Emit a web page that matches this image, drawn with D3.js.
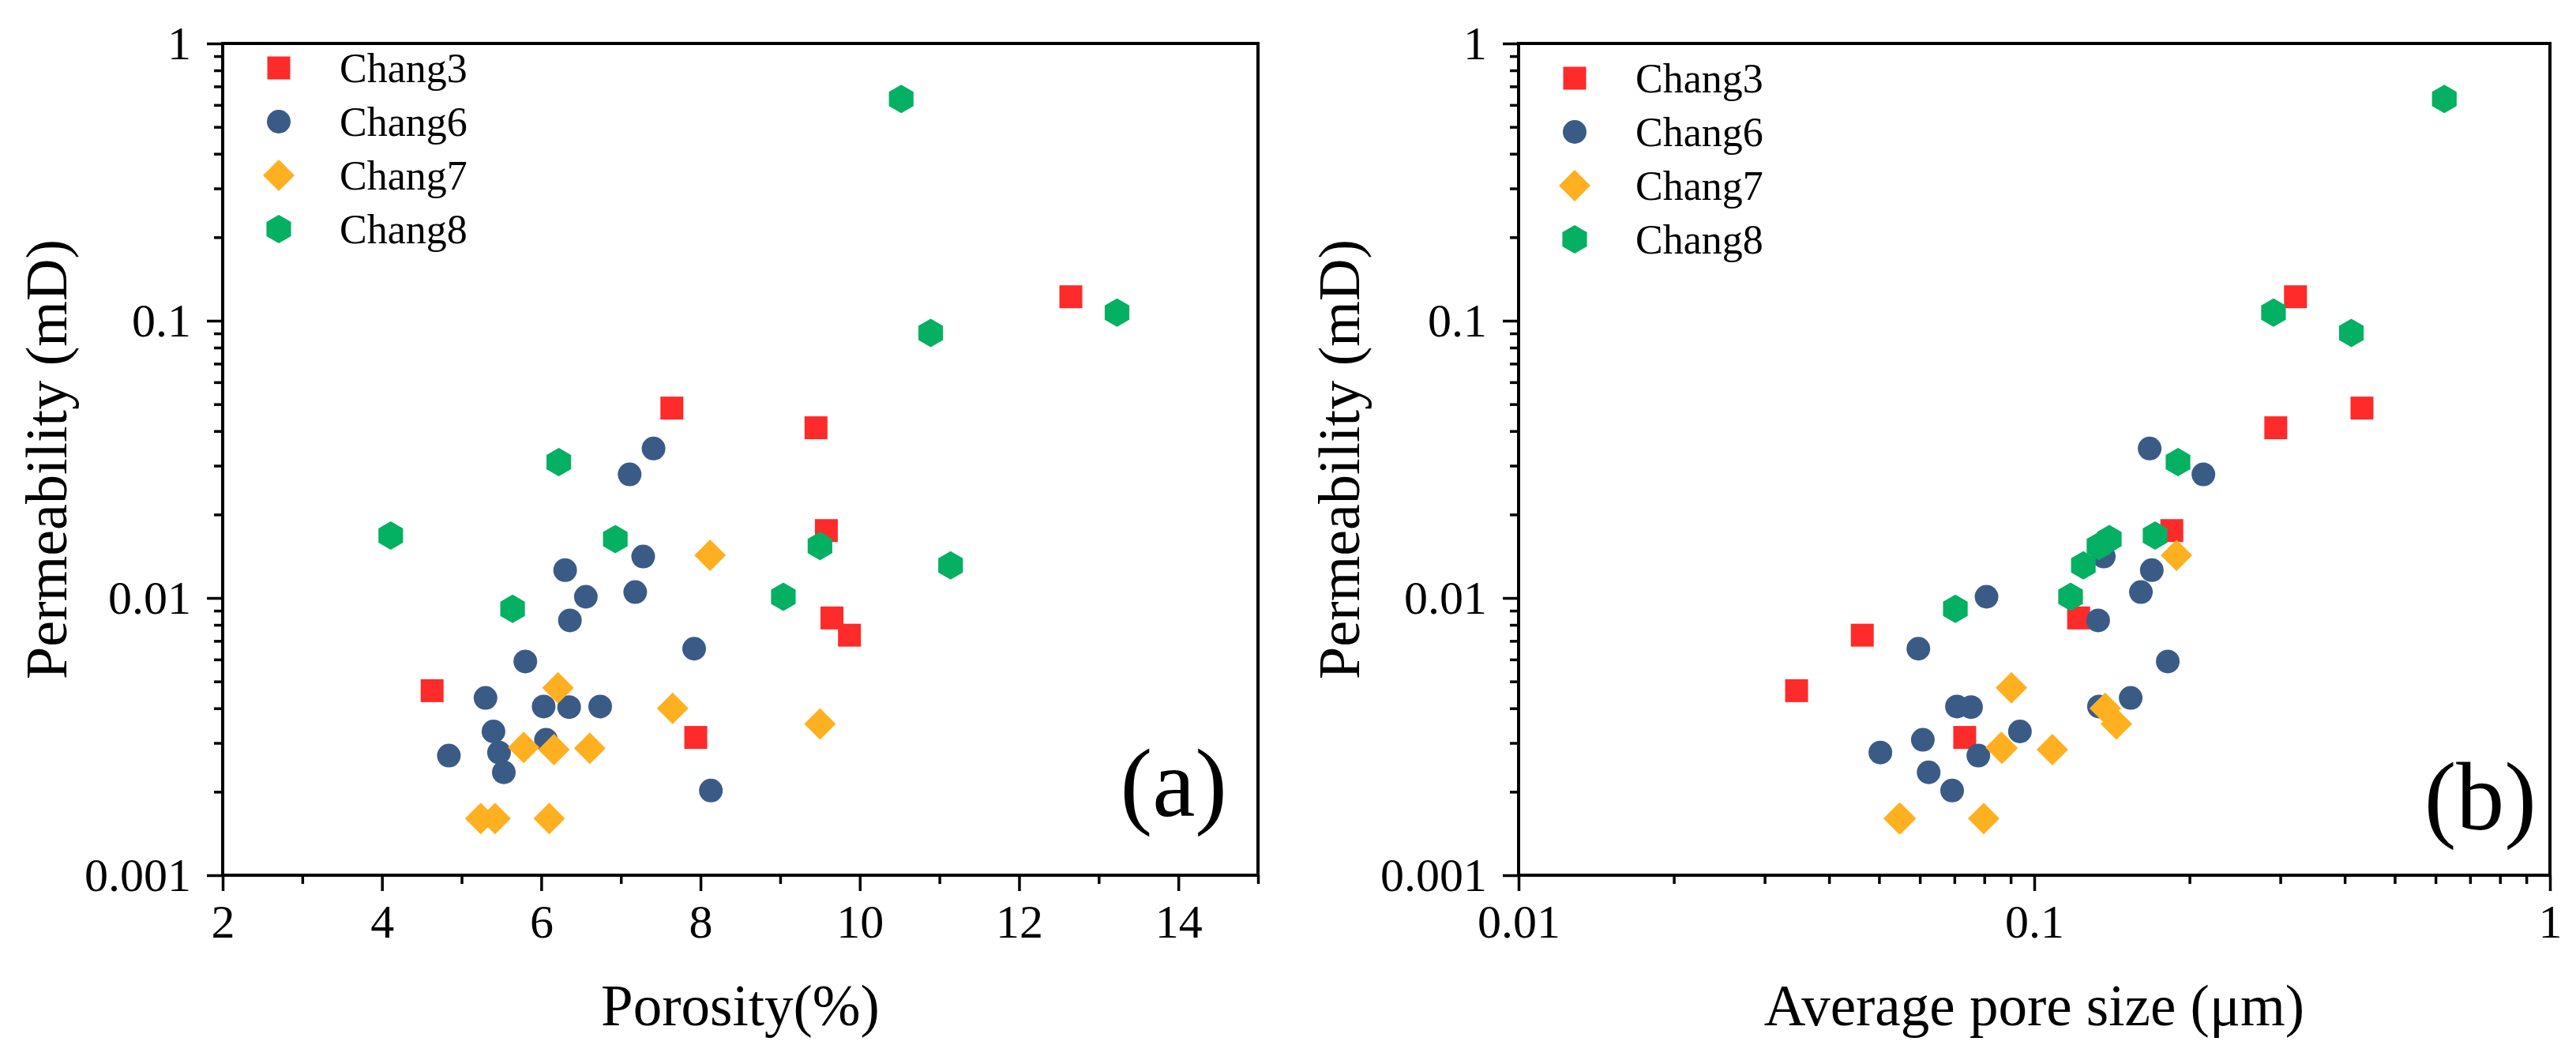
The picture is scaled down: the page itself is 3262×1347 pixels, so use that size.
<!DOCTYPE html>
<html>
<head>
<meta charset="utf-8">
<script src="https://cdn.jsdelivr.net/npm/d3@7"></script>
<style>
body { margin: 0; background: #fff; }
</style>
</head>
<body>
<script>
// Paramètres de la visualisation
const width = 3262;
const height = 1347;
const police = "'Liberation Serif', 'Times New Roman', serif";
const top0 = 55, bottom0 = 1108;

// Séries
const seriesNames = ['Chang3', 'Chang6', 'Chang7', 'Chang8'];
const seriesColors = ['#ff2a2a', '#3b5b87', '#ffb020', '#04b062'];
const seriesShapes = ['square', 'circle', 'diamond', 'hexagon'];

// Données : porosité (%), taille moyenne des pores (µm), perméabilité (mD)
const chang3Porosity = [4.63, 7.64, 9.45, 9.58, 9.65, 9.87, 7.94, 12.65];
const chang3PoreSize = [0.0346, 0.432, 0.294, 0.1848, 0.1219, 0.0464, 0.0733, 0.321];
const chang3Perm = [0.00463, 0.0484, 0.0411, 0.0175, 0.00847, 0.00734, 0.00314, 0.122];

const chang6Porosity = [4.84, 5.30, 5.40, 5.47, 5.53, 5.80, 6.03, 6.06, 6.30, 6.36, 6.35, 6.56, 6.74, 7.11, 7.18, 7.28, 7.41, 7.92, 8.13];
const chang6PoreSize = [0.0779, 0.1538, 0.0938, 0.0503, 0.0624, 0.1815, 0.0708, 0.0608, 0.169, 0.133, 0.0754, 0.0808, 0.1335, 0.2128, 0.161, 0.1364, 0.1674, 0.0596, 0.0693];
const chang6Perm = [0.0027, 0.00436, 0.0033, 0.00277, 0.00235, 0.0059, 0.00406, 0.00308, 0.0126, 0.0083, 0.00404, 0.0101, 0.00406, 0.0279, 0.0105, 0.0141, 0.0346, 0.00656, 0.00202];

const chang7Porosity = [5.24, 5.42, 6.10, 5.78, 6.16, 6.61, 6.21, 7.65, 8.12, 9.50];
const chang7PoreSize = [0.0547, 0.0798, 0.0550, 0.0863, 0.1084, 0.0866, 0.0903, 0.1373, 0.1887, 0.1443];
const chang7Perm = [0.0016, 0.0016, 0.0016, 0.00289, 0.00284, 0.00287, 0.00474, 0.0040, 0.01426, 0.00351];

const chang8Porosity = [4.11, 5.64, 6.22, 6.93, 9.04, 9.50, 11.14, 10.52, 10.89, 13.23];
const chang8PoreSize = [0.1715, 0.0703, 0.190, 0.1398, 0.1176, 0.1335, 0.1245, 0.624, 0.412, 0.291];
const chang8Perm = [0.0168, 0.00914, 0.0309, 0.0163, 0.0101, 0.0154, 0.0131, 0.631, 0.0904, 0.107];

// Graduations
const yTicks = [0.001, 0.01, 0.1, 1];
const yTickLabels = ['0.001', '0.01', '0.1', '1'];
const xTicksA = [2, 4, 6, 8, 10, 12, 14];
const xTickLabelsA = ['2', '4', '6', '8', '10', '12', '14'];
const xMinorA = [3, 5, 7, 9, 11, 13, 15];
const xTicksB = [0.01, 0.1, 1];
const xTickLabelsB = ['0.01', '0.1', '1'];

const groups = [
    { porosity: chang3Porosity, poreSize: chang3PoreSize, perm: chang3Perm },
    { porosity: chang6Porosity, poreSize: chang6PoreSize, perm: chang6Perm },
    { porosity: chang7Porosity, poreSize: chang7PoreSize, perm: chang7Perm },
    { porosity: chang8Porosity, poreSize: chang8PoreSize, perm: chang8Perm }
].map((g, i) => ({ ...g, name: seriesNames[i], color: seriesColors[i], shape: seriesShapes[i] }));

// Formes des symboles
function forme(type) {
    const p = d3.path();
    if (type === 'square') {
        p.rect(-14.5, -14.5, 29, 29);
    } else if (type === 'circle') {
        p.moveTo(15, 0);
        p.arc(0, 0, 15, 0, 2 * Math.PI);
    } else if (type === 'diamond') {
        p.moveTo(0, -20); p.lineTo(20, 0); p.lineTo(0, 20); p.lineTo(-20, 0);
    } else {
        d3.range(6).forEach(k => {
            const a = (-90 + 60 * k) * Math.PI / 180;
            if (k === 0) p.moveTo(18 * Math.cos(a), 18 * Math.sin(a));
            else p.lineTo(18 * Math.cos(a), 18 * Math.sin(a));
        });
    }
    p.closePath();
    return p.toString();
}

// Créer l'élément SVG
const svg = d3.select('body')
    .append('svg')
    .attr('width', width)
    .attr('height', height)
    .style('font-family', police);

const y = d3.scaleLog().domain([0.001, 1]).range([bottom0, top0]);
const yMinor = y.ticks().filter(d => !yTicks.some(t => Math.abs(t - d) < 1e-9));

function styleAxe(g) {
    g.select('.domain').remove();
    g.selectAll('line').attr('stroke', '#000').attr('stroke-width', 3.5);
    g.selectAll('text').attr('fill', '#000').style('font-family', police).style('font-size', '60px');
}

function panel(cfg) {
    const g = svg.append('g');
    const x = cfg.x;
    const [x0, x1] = x.range();

    // Axe horizontal
    g.append('g')
        .attr('transform', `translate(0, ${bottom0})`)
        .call(d3.axisBottom(x).tickValues(cfg.xTicks).tickFormat((d, i) => cfg.xLabels[i])
            .tickSize(20).tickSizeOuter(0).tickPadding(16))
        .call(styleAxe);
    g.append('g')
        .attr('transform', `translate(0, ${bottom0})`)
        .call(d3.axisBottom(x).tickValues(cfg.xMinor).tickFormat('').tickSize(11).tickSizeOuter(0))
        .call(styleAxe);

    // Axe vertical
    g.append('g')
        .attr('transform', `translate(${x0}, 0)`)
        .call(d3.axisLeft(y).tickValues(yTicks).tickFormat((d, i) => yTickLabels[i])
            .tickSize(20).tickSizeOuter(0).tickPadding(20))
        .call(styleAxe);
    g.append('g')
        .attr('transform', `translate(${x0}, 0)`)
        .call(d3.axisLeft(y).tickValues(yMinor).tickFormat('').tickSize(11).tickSizeOuter(0))
        .call(styleAxe);

    // Cadre
    g.append('rect')
        .attr('x', x0).attr('y', top0)
        .attr('width', x1 - x0).attr('height', bottom0 - top0)
        .attr('fill', 'none').attr('stroke', '#000').attr('stroke-width', 4);

    // Points
    groups.forEach(s => {
        g.append('g')
            .selectAll('path')
            .data(s.perm.map((p, i) => ({ xv: s[cfg.key][i], p })))
            .enter()
            .append('path')
            .attr('d', forme(s.shape))
            .attr('transform', d => `translate(${x(d.xv)}, ${y(d.p)})`)
            .attr('fill', s.color);
    });

    // Légende
    const leg = g.append('g')
        .attr('transform', `translate(${cfg.legend[0]}, ${cfg.legend[1]})`)
        .selectAll('g')
        .data(groups)
        .enter()
        .append('g')
        .attr('transform', (d, i) => `translate(0, ${i * 68})`);
    leg.append('path').attr('d', d => forme(d.shape)).attr('fill', d => d.color);
    leg.append('text')
        .attr('x', 77)
        .attr('dy', '0.35em')
        .style('font-size', '52px')
        .text(d => d.name);

    // Titres des axes
    g.append('text')
        .attr('x', (x0 + x1) / 2)
        .attr('y', 1298)
        .attr('text-anchor', 'middle')
        .style('font-size', '73px')
        .text(cfg.xTitle);
    g.append('text')
        .attr('transform', `translate(${cfg.yTitleX}, ${(top0 + bottom0) / 2}) rotate(-90)`)
        .attr('text-anchor', 'middle')
        .style('font-size', '74px')
        .text('Permeability (mD)');

    // Étiquette du panneau
    g.append('text')
        .attr('x', cfg.tag[0])
        .attr('y', cfg.tag[1])
        .attr('text-anchor', 'end')
        .style('font-size', '122px')
        .text(cfg.tagText);
}

panel({
    x: d3.scaleLinear().domain([2, 15]).range([282, 1593]),
    key: 'porosity',
    xTicks: xTicksA, xLabels: xTickLabelsA, xMinor: xMinorA,
    xTitle: 'Porosity(%)',
    yTitleX: 84,
    legend: [353, 86],
    tag: [1554, 1033], tagText: '(a)'
});

const xB = d3.scaleLog().domain([0.01, 1]).range([1923, 3229]);
panel({
    x: xB,
    key: 'poreSize',
    xTicks: xTicksB, xLabels: xTickLabelsB,
    xMinor: xB.ticks().filter(d => !xTicksB.some(t => Math.abs(t - d) < 1e-9)),
    xTitle: 'Average pore size (μm)',
    yTitleX: 1721,
    legend: [1994, 99],
    tag: [3212, 1050], tagText: '(b)'
});
</script>
</body>
</html>
